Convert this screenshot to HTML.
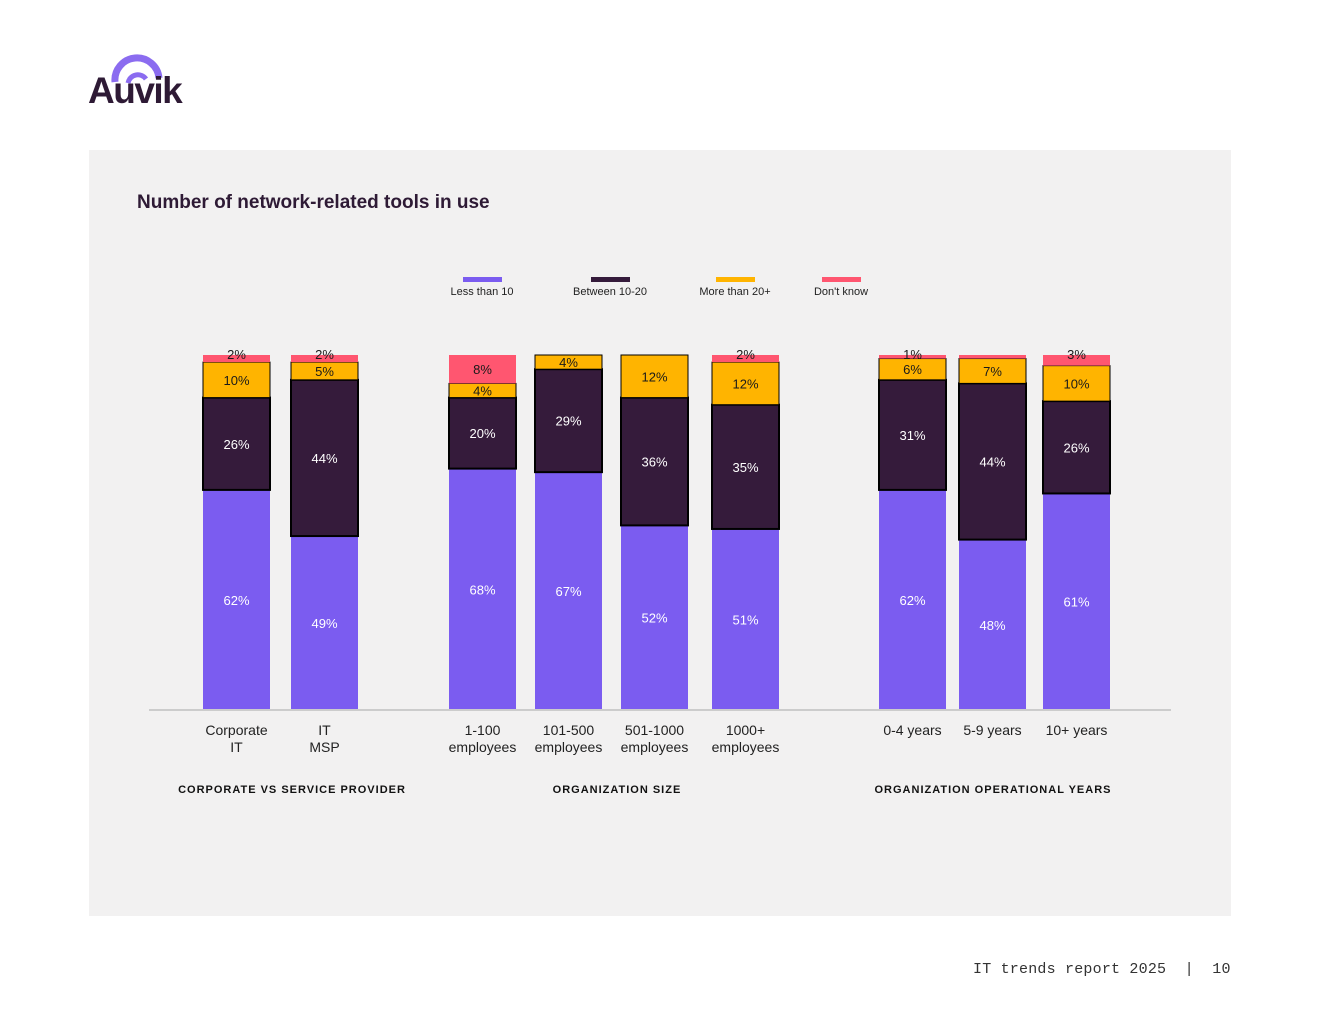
<!DOCTYPE html>
<html><head><meta charset="utf-8"><style>
body{margin:0;width:1320px;height:1020px;background:#fff;font-family:"Liberation Sans",sans-serif;position:relative;overflow:hidden}
#panel{position:absolute;left:89px;top:150px;width:1142px;height:766px;background:#f2f1f1}
#title{position:absolute;left:137px;top:192px;font-size:19px;font-weight:bold;color:#2e1a35;letter-spacing:0}
#footer{position:absolute;left:973px;top:961px;font-family:"Liberation Mono",monospace;font-size:15px;letter-spacing:0.2px;color:#333;white-space:pre}
</style></head><body>
<div id="logo" style="position:absolute;left:88px;top:52px;width:100px;height:56px">
<svg width="100" height="56"><path d="M27 30 A22 22 0 0 1 71 26" fill="none" stroke="#8b6cf0" stroke-width="7"/><path d="M40 31 A10 10 0 0 1 58 27" fill="none" stroke="#8b6cf0" stroke-width="5"/>
<text x="0" y="51" font-family="Liberation Sans" font-weight="bold" font-size="37" fill="#2e1a35" letter-spacing="-1.5">Auvik</text></svg></div>
<div id="panel"></div>
<div id="title">Number of network-related tools in use</div>
<svg id="chart" width="1320" height="1020" style="position:absolute;left:0;top:0"></svg>
<div id="footer">IT trends report 2025  |  10</div>
<script>
const categories=["Corporate|IT","IT|MSP","1-100|employees","101-500|employees","501-1000|employees","1000+|employees","0-4 years","5-9 years","10+ years"];
const lessThan10=[62,49,68,67,52,51,62,48,61];
const between10to20=[26,44,20,29,36,35,31,44,26];
const moreThan20=[10,5,4,4,12,12,6,7,10];
const dontKnow=[2,2,8,0,0,2,1,1,3];
const showLabel=[[1,1,1,1],[1,1,1,1],[1,1,1,1],[1,1,1,0],[1,1,1,0],[1,1,1,1],[1,1,1,1],[1,1,1,0],[1,1,1,1]];
const groups=["CORPORATE VS SERVICE PROVIDER","ORGANIZATION SIZE","ORGANIZATION OPERATIONAL YEARS"];
const seriesNames=["Less than 10","Between 10-20","More than 20+","Don't know"];
const barX=[203,291,449,535,621,712,879,959,1043];
const groupX=[292,617,993];
const legendX=[482,610,735,841];
const colors=["#7b5cf0","#351b3b","#ffb400","#ff5670"];
const textColors=["#fff","#fff","#1a1a1a","#1a1a1a"];
const BASE=710,PX=3.55,BW=67;
const yScale=v=>v*PX;
const svg=document.getElementById('chart');
const NS="http://www.w3.org/2000/svg";
function mk(t,a){const e=document.createElementNS(NS,t);for(const k in a)e.setAttribute(k,a[k]);svg.appendChild(e);return e;}
const series=[lessThan10,between10to20,moreThan20,dontKnow];
categories.forEach((c,i)=>{
  let y=BASE;
  series.forEach((s,j)=>{
    const h=yScale(s[i]); if(h<=0)return;
    y-=h;
    const r=mk('rect',{x:barX[i],y:y,width:BW,height:h,fill:colors[j],stroke:(j==1||j==2)?'#000':'none','stroke-width':j==1?2:1});
    
    
    if(showLabel[i][j]){
      const ly=s[i]<=3?y+4:y+h/2+5;
      const t=mk('text',{x:barX[i]+BW/2,y:ly,'text-anchor':'middle','font-size':13,fill:textColors[j],'font-family':'Liberation Sans'});
      t.textContent=s[i]+'%';
      
      
    }
  });
  const lines=c.split('|');
  lines.forEach((l,k)=>{
    const t=mk('text',{x:barX[i]+BW/2,y:735+k*17,'text-anchor':'middle','font-size':14,fill:'#222','font-family':'Liberation Sans'});
    t.textContent=l;
    
    
  });
});
const ax=mk('line',{x1:149,x2:1171,y1:710,y2:710,stroke:'#ccc','stroke-width':2});


groups.forEach((g,i)=>{
  const t=mk('text',{x:groupX[i],y:793,'text-anchor':'middle','font-size':11,'font-weight':'bold',fill:'#111','letter-spacing':'1','font-family':'Liberation Sans'});
  t.textContent=g;
  
  
});
seriesNames.forEach((n,i)=>{
  const r=mk('rect',{x:legendX[i]-19,y:277,width:39,height:5,fill:colors[i]});
  
  
  const t=mk('text',{x:legendX[i],y:295,'text-anchor':'middle','font-size':11,fill:'#222','font-family':'Liberation Sans'});
  t.textContent=n;
  
  
});
</script>
</body></html>
